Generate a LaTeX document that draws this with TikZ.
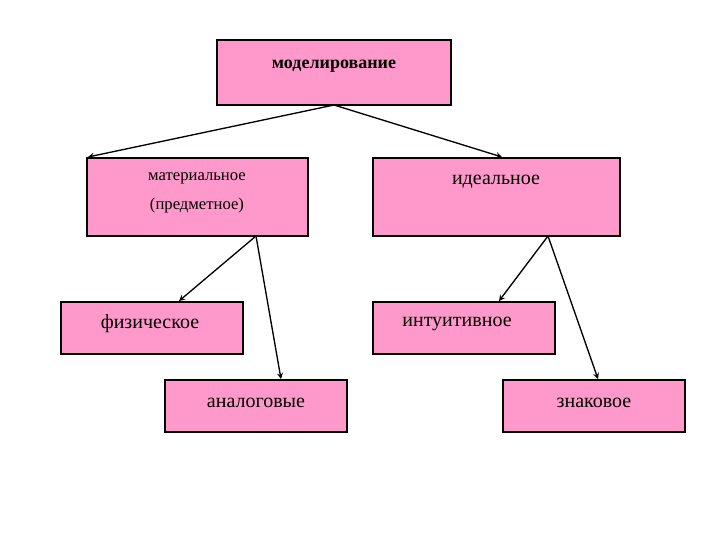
\documentclass[tikz,border=0pt]{standalone}
\usepackage{fontspec}
\setmainfont{Liberation Serif}
\definecolor{pinkf}{HTML}{FF99CC}
\begin{document}
\begin{tikzpicture}[x=0.75pt,y=-0.75pt,
 box/.style={draw=black,line width=1.1pt,fill=pinkf,inner sep=0pt},
 txt/.style={inner sep=0pt,font=\fontsize{15}{17}\selectfont},
 arr/.style={-stealth,line width=1pt}]
\useasboundingbox (0,0) rectangle (720,540);
\newcommand\bx[5]{\node[box,minimum width=#4*0.75pt,minimum height=#5*0.75pt] (#1) at (#2,#3) {};}
\bx{m}{334}{72.5}{234}{65}
\bx{a}{197.5}{197}{221}{78}
\bx{i}{496.5}{197}{247}{78}
\bx{f}{152}{328}{182}{52}
\bx{n}{464}{328}{182}{52}
\bx{g}{256}{406}{182}{52}
\bx{z}{594}{406}{182}{52}
\node[txt,font=\fontsize{13.5}{15}\selectfont\bfseries] (tm) at (334,66) {моделирование};
\node[txt,align=center,font=\fontsize{12.5}{22}\selectfont] (ta) at (197,193) {материальное\\(предметное)};
\node[txt] (ti) at (496,182) {идеальное};
\node[txt] (tf) at (150,324) {физическое};
\node[txt] (tn) at (457,324) {интуитивное};
\node[txt] (tg) at (256,403) {аналоговые};
\node[txt] (tz) at (594,403) {знаковое};
\coordinate (m1) at (334,105);
\coordinate (a1) at (256,236);
\coordinate (i1) at (548,236);
\draw[arr] (m1) -- (88,157);
\draw[arr] (m1) -- (502,157);
\draw[arr] (a1) -- (179,301);
\draw[arr] (a1) -- (281,379);
\draw[arr] (i1) -- (499,301);
\draw[arr] (i1) -- (598,379);
\end{tikzpicture}
\end{document}
